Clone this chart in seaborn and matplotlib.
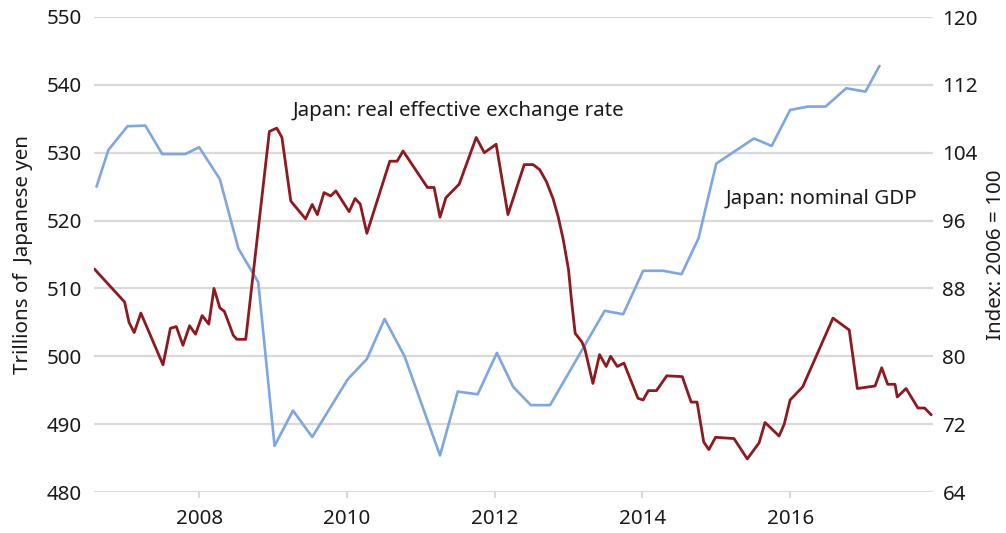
import matplotlib
matplotlib.use("Agg")
import matplotlib.pyplot as plt
import seaborn as sns
import pandas as pd

# ---- data ----
gdp_dates = [2006.61, 2006.77, 2007.03, 2007.27, 2007.50, 2007.81, 2008.00, 2008.28,
             2008.53, 2008.80, 2009.02, 2009.27, 2009.53, 2010.01, 2010.27, 2010.51,
             2010.78, 2011.26, 2011.50, 2011.77, 2012.03, 2012.25, 2012.49, 2012.75,
             2013.49, 2013.74, 2014.01, 2014.28, 2014.53, 2014.76, 2015.00, 2015.51,
             2015.75, 2016.00, 2016.24, 2016.48, 2016.76, 2017.02, 2017.21]
gdp_values = [525.0, 530.4, 533.9, 534.0, 529.8, 529.8, 530.8, 526.1,
              515.9, 510.9, 486.8, 492.0, 488.1, 496.6, 499.6, 505.5,
              500.0, 485.4, 494.8, 494.4, 500.5, 495.5, 492.8, 492.8,
              506.7, 506.2, 512.6, 512.6, 512.1, 517.4, 528.4, 532.1,
              531.0, 536.3, 536.8, 536.8, 539.5, 539.0, 542.8]

reer_dates = [2006.58, 2006.99, 2007.05, 2007.12, 2007.21, 2007.51, 2007.61, 2007.69,
              2007.78, 2007.87, 2007.95, 2008.04, 2008.13, 2008.20, 2008.28, 2008.34,
              2008.41, 2008.46, 2008.51, 2008.63, 2008.95, 2009.05, 2009.12, 2009.24,
              2009.44, 2009.53, 2009.60, 2009.69, 2009.78, 2009.85, 2010.03, 2010.11,
              2010.18, 2010.27, 2010.58, 2010.68, 2010.76, 2011.09, 2011.18, 2011.26,
              2011.34, 2011.52, 2011.75, 2011.86, 2012.02, 2012.18, 2012.40, 2012.52,
              2012.61, 2012.70, 2012.79, 2012.86, 2012.93, 2013.00, 2013.04, 2013.09,
              2013.18, 2013.22, 2013.33, 2013.42, 2013.51, 2013.57, 2013.66, 2013.75,
              2013.94, 2014.01, 2014.08, 2014.19, 2014.33, 2014.54, 2014.66, 2014.74,
              2014.83, 2014.90, 2014.99, 2015.24, 2015.42, 2015.58, 2015.66, 2015.85,
              2015.92, 2016.00, 2016.17, 2016.58, 2016.80, 2016.91, 2017.15, 2017.24,
              2017.32, 2017.42, 2017.45, 2017.57, 2017.73, 2017.82, 2017.91]
reer_values = [90.3, 86.4, 84.0, 82.8, 85.1, 79.0, 83.3, 83.5,
               81.3, 83.6, 82.6, 84.8, 83.8, 88.0, 85.7, 85.3,
               83.7, 82.5, 82.0, 82.0, 106.5, 106.9, 105.8, 98.3,
               96.2, 97.9, 96.7, 99.3, 98.9, 99.5, 97.05, 98.6,
               97.95, 94.5, 103.0, 103.0, 104.2, 99.9, 99.9, 96.4,
               98.7, 100.3, 105.8, 104.0, 105.0, 96.7, 102.6, 102.6,
               102.0, 100.6, 98.6, 96.45, 93.7, 90.2, 86.6, 82.7,
               81.7, 80.9, 76.8, 80.2, 78.8, 80.0, 78.8, 79.2,
               75.05, 74.85, 75.95, 75.95, 77.7, 77.6, 74.6, 74.6,
               69.9, 69.0, 70.45, 70.3, 67.9, 69.8, 72.2, 70.6,
               72.0, 74.85, 76.4, 84.5, 83.1, 76.2, 76.5, 78.65,
               76.7, 76.7, 75.2, 76.2, 73.9, 73.9, 73.1]

year_ticks = [2008, 2010, 2012, 2014, 2016]
left_ticks = [480, 490, 500, 510, 520, 530, 540, 550]
right_ticks = [64, 72, 80, 88, 96, 104, 112, 120]

label_reer = "Japan: real effective exchange rate"
label_gdp = "Japan: nominal GDP"
ylabel_left = "Trillions of  Japanese yen"
ylabel_right = "Index: 2006 = 100"

gdp = pd.DataFrame({"date": gdp_dates, "value": gdp_values})
reer = pd.DataFrame({"date": reer_dates, "value": reer_values})

# ---- style ----
sns.set_theme(style="white")
plt.rcParams["font.family"] = ["Noto Sans", "DejaVu Sans"]

BLUE = "#7fa6de"
RED = "#8c1a1f"
GRID = "#d9d9d9"
TXT = "#1a1a1a"
FS = 14.8

fig = plt.figure(figsize=(10.06, 5.33), dpi=100)
ax = fig.add_axes([94.3 / 1006, 1 - 492 / 533, (932.7 - 94.3) / 1006, (492 - 17) / 533])
ax2 = ax.twinx()

sns.lineplot(data=gdp, x="date", y="value", ax=ax, color=BLUE, linewidth=1.9)
sns.lineplot(data=reer, x="date", y="value", ax=ax2, color=RED, linewidth=2.0)

ax.set_xlim(2006.58, 2017.93)
ax.set_ylim(480, 550)
ax2.set_ylim(64, 120)

ax.set_xticks(year_ticks)
ax.set_xticklabels([str(y) for y in year_ticks])
ax.set_yticks(left_ticks)
ax2.set_yticks(right_ticks)

ax.yaxis.grid(True, color=GRID, linewidth=1.6)
ax.xaxis.grid(False)
ax2.grid(False)
ax.set_axisbelow(True)

for a in (ax, ax2):
    for s in a.spines.values():
        s.set_visible(False)

ax.tick_params(axis="x", length=4.5, width=1.5, color=GRID, pad=8,
               labelsize=FS, labelcolor=TXT, bottom=True)
ax.tick_params(axis="y", length=0, pad=9, labelsize=FS, labelcolor=TXT)
ax2.tick_params(axis="y", length=0, pad=7, labelsize=FS, labelcolor=TXT)

ax.set_xlabel("")
ax.set_ylabel(ylabel_left, fontsize=FS, color=TXT, labelpad=10)
ax2.set_ylabel(ylabel_right, fontsize=FS, color=TXT, labelpad=6, rotation=90)

ax.text(2009.27, 536.2, label_reer, fontsize=FS, color=TXT, va="center", ha="left")
ax.text(2015.13, 523.2, label_gdp, fontsize=FS, color=TXT, va="center", ha="left")

fig.savefig("out.png", dpi=100)
